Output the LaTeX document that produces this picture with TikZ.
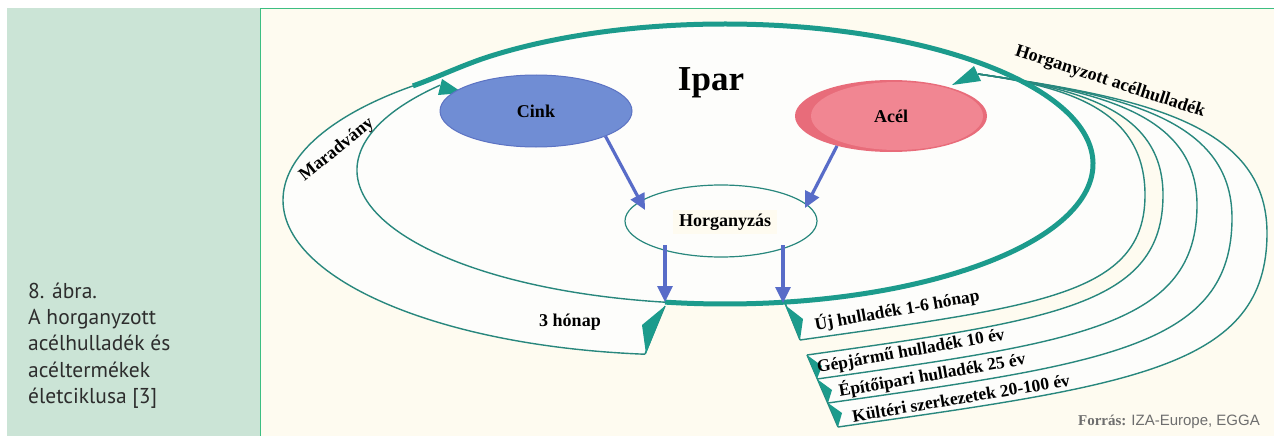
\documentclass[tikz,border=0pt]{standalone}
\usepackage{fontspec}
\setmainfont{Liberation Serif}
\newfontfamily\capfont{PT Sans}
\newfontfamily\srcfont{Liberation Sans}
\usetikzlibrary{arrows.meta,shapes.geometric,calc}
\definecolor{bgcream}{RGB}{254,251,240}
\definecolor{inwhite}{RGB}{253,253,251}
\definecolor{panelgreen}{RGB}{203,228,214}
\definecolor{bordergreen}{RGB}{60,190,130}
\definecolor{tealthick}{RGB}{28,155,140}
\definecolor{tealthin}{RGB}{40,135,125}
\definecolor{cinkfill}{RGB}{112,141,212}
\definecolor{cinkdraw}{RGB}{92,115,195}
\definecolor{acelrim}{RGB}{232,108,122}
\definecolor{acelfill}{RGB}{241,134,146}
\definecolor{arrowblue}{RGB}{88,108,200}
\definecolor{captext}{RGB}{45,45,45}
\definecolor{srcgray}{RGB}{110,110,110}
\begin{document}
\begin{tikzpicture}[x=1pt,y=-1pt,
  thinteal/.style={draw=tealthin, line width=1.4pt},
  thickteal/.style={draw=tealthick, line width=5pt},
  marker/.style={fill=tealthick},
  lbl/.style={font=\fontsize{18}{20}\selectfont\bfseries, inner sep=0pt},
  bandlbl/.style={font=\fontsize{17.5}{19}\selectfont\bfseries, inner sep=0pt},
  captxt/.style={font=\capfont\fontsize{21.5}{24}\selectfont, text=captext, anchor=base west, inner sep=0pt},
  bluearrow/.style={draw=arrowblue, line width=3.2pt, -{Triangle[length=16pt,width=15pt]}},
  bubble/.style={ellipse, minimum width=192pt, minimum height=72pt, inner sep=0pt},
]
\useasboundingbox (0,0) rectangle (1274,436);
% background and panels
\fill[white] (0,0) rectangle (1274,436);
\fill[panelgreen] (7,8) rectangle (260,436);
\fill[bgcream] (260,8) rectangle (1274,436);
\draw[bordergreen, line width=1.5pt] (260.5,436) -- (260.5,8.5) -- (1274,8.5);

% caption
\node[captxt] (c1) at (28,298) {8. ábra.};
\node[captxt] (c2) at (28,324) {A horganyzott};
\node[captxt] (c3) at (28,350) {acélhulladék és};
\node[captxt] (c4) at (28,377) {acéltermékek};
\node[captxt] (c5) at (28,403) {életciklusa [3]};

% ribbon fills
\fill[inwhite] (725,164) -- (785,303) -- (838,427) .. controls (1135.3,385) and (1267,366.9) .. (1267,233) .. controls (1267,121.7) and (1137,97.1) .. (978,74) -- cycle;
\fill[bgcream, even odd rule]
  (725,164) -- (785,303) -- (807,355) .. controls (1054.5,320) and (1163,305) .. (1163,195) .. controls (1163,110.3) and (1079.8,88.8) .. (978,74) -- cycle
  (725,164) -- (785,303) -- (800,340) .. controls (1039.1,306.2) and (1145,295) .. (1145,195) .. controls (1145,110.3) and (1069.9,87.4) .. (978,74) -- cycle;
\fill[inwhite] ([shift={(685,200)}]95.7:402 and 155) arc[start angle=95.7,end angle=233.3,x radius=402,y radius=155] -- (725,164) -- (665,306) -- cycle;
\fill[inwhite] (725,164) ellipse [x radius=368, y radius=140];

% right ribbon lines
\draw[thinteal] (800,340) .. controls (1039.1,306.2) and (1145,295) .. (1145,195) .. controls (1145,110.3) and (1069.9,87.4) .. (978,74);
\draw[thinteal] (807,355) .. controls (1054.5,320) and (1163,305) .. (1163,195) .. controls (1163,110.3) and (1079.8,88.8) .. (978,74);
\draw[thinteal] (817,379) .. controls (1080.3,341.8) and (1197,325) .. (1197,205) .. controls (1197,113.3) and (1098.5,91.5) .. (978,74);
\draw[thinteal] (828,403) .. controls (1108,363.4) and (1232,345.7) .. (1232,218) .. controls (1232,117.2) and (1117.7,94.3) .. (978,74);
\draw[thinteal] (838,427) .. controls (1135.3,385) and (1267,366.9) .. (1267,233) .. controls (1267,121.7) and (1137,97.1) .. (978,74);
\draw[thinteal] (785,303) -- (800,340);
\draw[thinteal] (807,355) -- (838,427);

% left ribbon lines
\draw[thinteal] ([shift={(725,170)}]99.4:368 and 134) arc[start angle=99.4,end angle=219.25,x radius=368,y radius=134];
\draw[thinteal] ([shift={(685,200)}]95.7:402 and 155) arc[start angle=95.7,end angle=227.4,x radius=402,y radius=155];
\draw[thinteal] (645,354) -- (665,306);

% thick cycle line
\draw[thickteal] ([shift={(685,200)}]227.4:402 and 155) .. controls (438,77) and (463.4,64.8) .. ([shift={(725,164)}]230:368 and 140)
  arc[start angle=230,end angle=459.4,x radius=368,y radius=140];

% arrow markers
\fill[marker] (665,306) -- (642,325) -- (646,354) -- cycle;
\fill[marker] (785,305) -- (803,319) -- (800,340) -- cycle;
\fill[marker] (807,355) -- (822,366) -- (817,379) -- cycle;
\fill[marker] (817,379) -- (832,390) -- (828,403) -- cycle;
\fill[marker] (828,403) -- (842,413) -- (838,427) -- cycle;
\fill[marker] (442,79) -- (463,93) -- (438,95) -- cycle;
\fill[marker] (974,66) -- (981,81) -- (952,85) -- cycle;

% nodes
\node[bubble, fill=cinkfill, draw=cinkdraw, line width=1pt, font=\fontsize{18}{20}\selectfont\bfseries] (cink) at (536,111) {Cink};
\node[bubble, fill=acelrim, path picture={\fill[acelfill] ([xshift=6pt]path picture bounding box.center) ellipse [x radius=86pt, y radius=34pt];}, font=\fontsize{18}{20}\selectfont\bfseries] (acel) at (891,116) {Acél};
\node[bubble, fill=inwhite, draw=tealthin, line width=1.2pt] (horg) at (721,221) {};
\node[lbl, fill=bgcream, inner xsep=6pt, inner ysep=4pt] (horgtxt) at (725,222) {Horganyzás};
\node[font=\fontsize{35}{40}\selectfont\bfseries, inner sep=0pt, anchor=base] (ipar) at (711,90) {Ipar};

% labels
\node[lbl, rotate=39] (mar) at (337,150) {Maradvány};
\node[lbl] (h3) at (570,322) {3 hónap};
\node[lbl, rotate=-18] (hac) at (1110,82) {Horganyzott acélhulladék};
\node[bandlbl, rotate=10] (uj) at (897,310) {Új hulladék 1-6 hónap};
\node[bandlbl, rotate=10] (gep) at (911,352) {Gépjármű hulladék 10 év};
\node[bandlbl, rotate=10] (epi) at (932,375) {Építőipari hulladék 25 év};
\node[bandlbl, rotate=9.5] (kul) at (961,398) {Kültéri szerkezetek 20-100 év};
\node[anchor=base east, inner sep=0pt, text=srcgray, font=\fontsize{15}{17}\selectfont] (src) at (1260,425) {{\bfseries Forrás:} {\srcfont IZA-Europe, EGGA}};

% blue arrows
\coordinate (t1) at (645,210);
\coordinate (t2) at (805,208);
\coordinate (s3) at (665,245);
\coordinate (s4) at (783,245);
\coordinate (j1) at (665,302);
\coordinate (j2) at (783,303);
\draw[bluearrow] (cink.-20) -- (t1);
\draw[bluearrow] (acel.-151) -- (t2);
\draw[bluearrow] (s3) -- (j1);
\draw[bluearrow] (s4) -- (j2);
\end{tikzpicture}
\end{document}
